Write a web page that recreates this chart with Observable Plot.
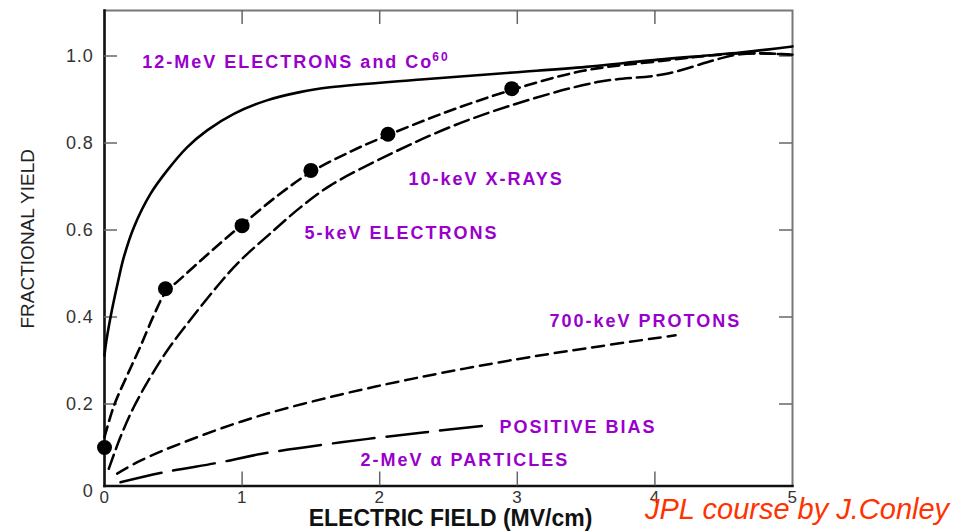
<!DOCTYPE html>
<html><head><meta charset="utf-8">
<script src="https://cdn.jsdelivr.net/npm/d3@7"></script>
<script src="https://cdn.jsdelivr.net/npm/@observablehq/plot@0.6"></script>
<style>
body{margin:0;background:#fff;}
#wrap{position:relative;width:971px;height:531px;overflow:hidden;}
#caption{position:absolute;left:645px;top:491px;font:italic 29px "Liberation Sans",Arial,sans-serif;color:#ff3300;white-space:nowrap;line-height:36px;}
g[fill="#9900cc"] text{letter-spacing:2px;}
g[aria-label="y-axis tick label"] text, g[aria-label="x-axis tick label"] text{letter-spacing:0.8px;}
</style></head><body>
<div id="wrap"><div id="chart"></div><div id="caption">JPL course by J.Conley</div></div>
<script>
// Axis ticks and labels
const xTicks = [0, 1, 2, 3, 4, 5];
const xTickLabels = ["0", "1", "2", "3", "4", "5"];
const yTicks = [0, 0.2, 0.4, 0.6, 0.8, 1.0];
const yTickLabels = ["0", "0.2", "0.4", "0.6", "0.8", "1.0"];

// 12-MeV electrons and Co60 (solid)
const co60X = [0, 0.007, 0.044, 0.1, 0.14, 0.213, 0.334, 0.456, 0.6, 0.746, 0.94, 1.18, 1.42, 1.64, 2.3, 2.97, 3.5, 3.97, 4.62, 5.0];
const co60Y = [0.311, 0.331, 0.40, 0.484, 0.537, 0.606, 0.683, 0.737, 0.790, 0.829, 0.867, 0.898, 0.917, 0.928, 0.946, 0.962, 0.975, 0.990, 1.008, 1.022];

// 10-keV X-rays (short dashes)
const xrayX = [0, 0.07, 0.165, 0.262, 0.36, 0.443, 0.55, 0.7, 0.85, 1.0, 1.25, 1.5, 1.8, 2.06, 2.5, 2.96, 3.48, 4.0, 4.62, 5.0];
const xrayY = [0.124, 0.197, 0.266, 0.333, 0.405, 0.456, 0.487, 0.53, 0.572, 0.612, 0.677, 0.733, 0.782, 0.818, 0.873, 0.922, 0.966, 0.987, 1.006, 1.003];

// 10-keV X-ray measured points
const dotX = [0, 0.443, 1.0, 1.5, 2.06, 2.96];
const dotY = [0.10, 0.465, 0.610, 0.737, 0.820, 0.925];

// 5-keV electrons (long dashes)
const e5X = [0.031, 0.116, 0.213, 0.334, 0.456, 0.6, 0.855, 0.988, 1.23, 1.424, 1.64, 2.08, 2.5, 2.95, 3.58, 4.065, 4.62, 5.0];
const e5Y = [0.051, 0.124, 0.193, 0.262, 0.323, 0.384, 0.484, 0.53, 0.599, 0.652, 0.702, 0.775, 0.835, 0.886, 0.94, 0.958, 1.004, 1.003];

// 700-keV protons (short dashes)
const protX = [0.092, 0.262, 0.576, 1.097, 1.72, 2.3, 3.0, 3.5, 4.15];
const protY = [0.040, 0.070, 0.112, 0.170, 0.222, 0.262, 0.303, 0.328, 0.358];

// 2-MeV alpha particles, positive bias (long dashes)
const alphaX = [0.116, 0.431, 0.843, 1.134, 1.72, 2.3, 2.78];
const alphaY = [0.020, 0.043, 0.066, 0.085, 0.112, 0.134, 0.151];

// Curve labels (data coordinates of the text's left edge)
const labelText = ["10-keV X-RAYS", "5-keV ELECTRONS", "700-keV PROTONS", "POSITIVE BIAS", "2-MeV \u03b1 PARTICLES"];
const labelX = [2.209, 1.453, 3.234, 2.871, 1.860];
const labelY = [0.716, 0.592, 0.390, 0.146, 0.070];
const co60Label = "12-MeV ELECTRONS and Co";
const co60Sup = "60";
const co60LabelX = 2.39;
const co60LabelY = 0.985;

const toRows = (xs, ys) => xs.map((x, i) => ({x, y: ys[i]}));
const FONT = '"Liberation Sans", Arial, Helvetica, sans-serif';
const PURPLE = "#9900cc";
const W = 971, H = 531, ML = 104, MR = 179, MT = 10, MB = 45.5;
const FW = W - ML - MR, FH = H - MT - MB;

const chart = Plot.plot({
  width: W, height: H,
  marginLeft: ML, marginRight: MR, marginTop: MT, marginBottom: MB,
  style: {fontFamily: FONT, background: "#fff", overflow: "visible"},
  x: {domain: [0, 5]},
  y: {domain: [0, 1.1046], range: [H - MB + 5, MT]},
  marks: [
    Plot.frame({stroke: "#777", strokeWidth: 2}),
    Plot.frame({anchor: "left", stroke: "#111", strokeWidth: 2.5}),
    Plot.frame({anchor: "bottom", stroke: "#111", strokeWidth: 2.5}),
    // inward ticks
    Plot.tickY(yTicks.slice(1), {y: d => d, insetRight: FW - 13, stroke: "#666", strokeWidth: 1.5}),
    Plot.tickY(yTicks.slice(1), {y: d => d, insetLeft: FW - 13, stroke: "#666", strokeWidth: 1.5}),
    Plot.tickX(xTicks.slice(1, -1), {x: d => d, insetBottom: FH - 14, stroke: "#666", strokeWidth: 1.5}),
    Plot.tickX(xTicks.slice(1, -1), {x: d => d, insetTop: FH - 14, stroke: "#666", strokeWidth: 1.5}),
    Plot.axisX({ticks: xTicks, tickFormat: d => xTickLabels[xTicks.indexOf(d)], tickSize: 0, tickPadding: 5, fontSize: 17, color: "#333", label: null}),
    Plot.axisY({ticks: yTicks, tickFormat: d => yTickLabels[yTicks.indexOf(d)], tickSize: 0, tickPadding: 11, fontSize: 18, color: "#333", label: null}),
    Plot.text(["FRACTIONAL YIELD"], {frameAnchor: "left", textAnchor: "middle", lineAnchor: "middle", rotate: -90, dx: -77, dy: -9.5, fontSize: 19, fill: "#222"}),
    Plot.text(["ELECTRIC FIELD (MV/cm)"], {frameAnchor: "bottom", textAnchor: "middle", lineAnchor: "middle", dy: 33, dx: 2, fontSize: 23, fontWeight: "bold", fill: "#111", style: "letter-spacing:0.9px"}),
    // curves
    Plot.line(toRows(co60X, co60Y), {x: "x", y: "y", curve: "catmull-rom", stroke: "#000", strokeWidth: 2.6}),
    Plot.line(toRows(xrayX, xrayY), {x: "x", y: "y", curve: "catmull-rom", stroke: "#000", strokeWidth: 2.6, strokeDasharray: "11,6"}),
    Plot.line(toRows(e5X, e5Y), {x: "x", y: "y", curve: "catmull-rom", stroke: "#000", strokeWidth: 2.5, strokeDasharray: "15,6"}),
    Plot.line(toRows(protX, protY), {x: "x", y: "y", curve: "catmull-rom", stroke: "#000", strokeWidth: 2.5, strokeDasharray: "12,7"}),
    Plot.line(toRows(alphaX, alphaY), {x: "x", y: "y", curve: "catmull-rom", stroke: "#000", strokeWidth: 2.5, strokeDasharray: "42,12"}),
    Plot.dot(toRows(dotX, dotY), {x: "x", y: "y", r: 7.5, fill: "#000", stroke: "none"}),
    // labels
    Plot.text(labelText, {x: (d, i) => labelX[i], y: (d, i) => labelY[i], text: d => d, textAnchor: "start", fontSize: 18, fontWeight: "bold", fill: PURPLE}),
    Plot.text([co60Label], {x: () => co60LabelX, y: () => co60LabelY, text: d => d, textAnchor: "end", fontSize: 18, fontWeight: "bold", fill: PURPLE}),
    Plot.text([co60Sup], {x: () => co60LabelX, y: () => co60LabelY, text: d => d, textAnchor: "start", dx: -1, dy: -5, fontSize: 12, fontWeight: "bold", fill: PURPLE})
  ]
});
document.getElementById("chart").appendChild(chart);
</script>
</body></html>
